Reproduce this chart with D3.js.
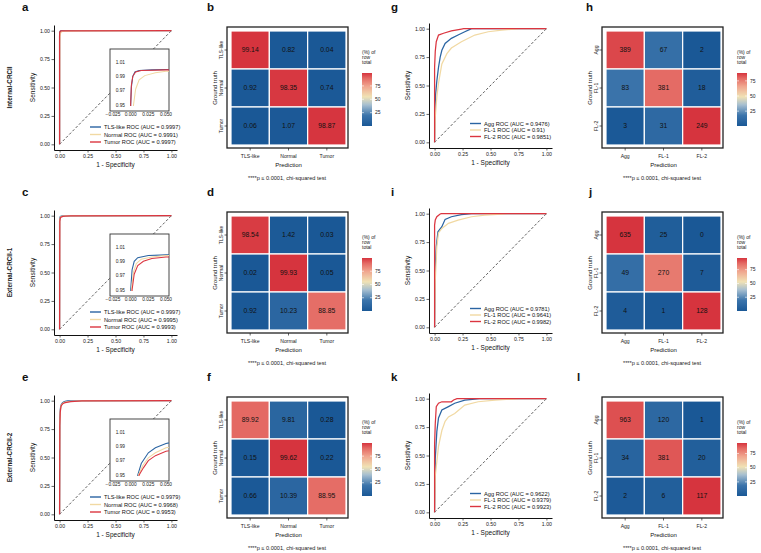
<!DOCTYPE html>
<html>
<head>
<meta charset="utf-8">
<script src="https://cdnjs.cloudflare.com/ajax/libs/d3/7.8.5/d3.min.js"></script>
<style>
body { margin: 0; background: #fff; }
text { font-family: "Liberation Sans", Arial, sans-serif; }
</style>
</head>
<body>
<div id="chart"></div>
<script>
// ---------- data ----------
var rowNames = ["Internal-CRCII", "External-CRCII-1", "External-CRCII-2"];
var tissueClasses = ["TLS-like", "Normal", "Tumor"];
var gradeClasses = ["Agg", "FL-1", "FL-2"];
var tissueKeys = ["TLS-like ROC", "Normal ROC", "Tumor ROC"];
var gradeKeys = ["Agg ROC", "FL-1 ROC", "FL-2 ROC"];
var rocTicks = [0, 0.25, 0.5, 0.75, 1];
var insetXTicks = [-0.025, 0, 0.025, 0.05];
var insetYTicks = [0.95, 0.97, 0.99, 1.01];
var barTicks = [25, 50, 75];
var letters = [["a", "b", "g", "h"], ["c", "d", "i", "j"], ["e", "f", "k", "l"]];

// tissue ROC curves, [1 - specificity, sensitivity]
var rocA_tls = [[0,0],[0,0.95],[0.001,0.975],[0.003,0.99],[0.006,0.996],[0.012,0.998],[0.03,0.999],[0.05,0.9995],[1,1]];
var rocA_normal = [[0,0],[0.002,0.9],[0.004,0.95],[0.007,0.972],[0.012,0.985],[0.02,0.991],[0.035,0.995],[0.05,0.997],[0.2,0.999],[1,1]];
var rocA_tumor = [[0,0],[0,0.95],[0.001,0.978],[0.003,0.99],[0.007,0.996],[0.015,0.998],[0.05,0.999],[1,1]];
var aucA = ["0.9997", "0.9991", "0.9997"];

var rocC_tls = [[0,0],[0,0.95],[0.002,0.978],[0.005,0.99],[0.01,0.995],[0.025,0.998],[0.05,0.999],[1,1]];
var rocC_normal = [[0,0],[0.001,0.95],[0.004,0.975],[0.008,0.987],[0.015,0.993],[0.03,0.996],[0.05,0.998],[1,1]];
var rocC_tumor = [[0,0],[0.002,0.95],[0.005,0.972],[0.01,0.984],[0.018,0.99],[0.03,0.994],[0.05,0.996],[0.1,0.998],[1,1]];
var aucC = ["0.9997", "0.9995", "0.9993"];

var rocE_tls = [[0,0],[0.002,0.85],[0.006,0.92],[0.01,0.95],[0.015,0.966],[0.025,0.981],[0.035,0.988],[0.05,0.994],[0.07,0.998],[1,1]];
var rocE_normal = [[0,0],[0.002,0.8],[0.006,0.9],[0.011,0.95],[0.017,0.963],[0.025,0.974],[0.035,0.981],[0.05,0.988],[0.1,0.995],[0.2,0.999],[1,1]];
var rocE_tumor = [[0,0],[0.002,0.78],[0.006,0.9],[0.012,0.95],[0.018,0.96],[0.025,0.97],[0.035,0.977],[0.05,0.983],[0.1,0.992],[0.2,0.998],[1,1]];
var aucE = ["0.9979", "0.9968", "0.9953"];

// grade ROC curves
var rocG_agg = [[0,0],[0.004,0.3],[0.009,0.42],[0.02,0.54],[0.035,0.66],[0.05,0.75],[0.065,0.81],[0.094,0.87],[0.15,0.915],[0.21,0.944],[0.27,0.973],[0.316,0.994],[0.33,1],[1,1]];
var rocG_fl1 = [[0,0],[0.006,0.22],[0.02,0.4],[0.035,0.52],[0.065,0.69],[0.11,0.78],[0.15,0.83],[0.24,0.885],[0.36,0.944],[0.48,0.973],[0.6,0.988],[0.71,0.997],[0.75,1],[1,1]];
var rocG_fl2 = [[0,0],[0,0.66],[0.006,0.8],[0.015,0.885],[0.035,0.944],[0.08,0.96],[0.15,0.98],[0.24,0.997],[0.26,1],[1,1]];
var aucG = ["0.9476", "0.91", "0.9851"];

var rocI_agg = [[0,0],[0.006,0.53],[0.015,0.71],[0.03,0.84],[0.065,0.885],[0.094,0.95],[0.15,0.973],[0.24,0.991],[0.33,1],[1,1]];
var rocI_fl1 = [[0,0],[0.006,0.41],[0.02,0.71],[0.035,0.83],[0.065,0.87],[0.124,0.915],[0.21,0.944],[0.33,0.973],[0.45,0.988],[0.6,0.997],[0.65,1],[1,1]];
var rocI_fl2 = [[0,0],[0,0.9],[0.006,0.944],[0.02,0.973],[0.05,0.997],[0.06,1],[1,1]];
var aucI = ["0.9781", "0.9641", "0.9982"];

var rocK_agg = [[0,0],[0.006,0.47],[0.02,0.71],[0.035,0.83],[0.065,0.9],[0.124,0.93],[0.18,0.96],[0.27,0.988],[0.36,0.997],[0.4,1],[1,1]];
var rocK_fl1 = [[0,0],[0.006,0.32],[0.035,0.58],[0.065,0.72],[0.094,0.8],[0.124,0.84],[0.18,0.87],[0.27,0.944],[0.39,0.973],[0.54,0.988],[0.71,0.997],[0.75,1],[1,1]];
var rocK_fl2 = [[0,0],[0,0.6],[0.006,0.78],[0.015,0.93],[0.035,0.96],[0.065,0.973],[0.15,0.973],[0.17,0.988],[0.2,1],[1,1]];
var aucK = ["0.9622", "0.9379", "0.9923"];

// confusion matrices (rows = ground truth, cols = prediction)
var pctInternal = [[99.14, 0.82, 0.04], [0.92, 98.35, 0.74], [0.06, 1.07, 98.87]];
var pctExternal1 = [[98.54, 1.42, 0.03], [0.02, 99.93, 0.05], [0.92, 10.23, 88.85]];
var pctExternal2 = [[89.92, 9.81, 0.28], [0.15, 99.62, 0.22], [0.66, 10.39, 88.95]];
var cntInternal = [[389, 67, 2], [83, 381, 18], [3, 31, 249]];
var cntExternal1 = [[635, 25, 0], [49, 270, 7], [4, 1, 128]];
var cntExternal2 = [[963, 120, 1], [34, 381, 20], [2, 6, 117]];

// ---------- style ----------
var rocColors = ["#2a64a2", "#f1d9a3", "#db3540"];
var heatColor = d3.scaleLinear()
  .domain([0, 0.2, 0.4, 0.55, 0.75, 0.9, 1])
  .range(["#1a5896", "#3b74ab", "#a7bfd0", "#f0e2b5", "#f0a58e", "#e46a64", "#d6343e"]);
var colX = [0, 375];
var rowY = [0, 185, 370];
var clipId = 0;

var svg = d3.select("#chart").append("svg")
  .attr("width", 761).attr("height", 553);

function styleAxis(ax, fs) {
  ax.selectAll("text").attr("font-size", fs).attr("fill", "#222");
  ax.selectAll("line").attr("stroke", "#222").attr("stroke-width", 0.7);
  ax.select(".domain").attr("stroke", "#111").attr("stroke-width", 1);
}

function rocPanel(ox, oy, curves, keys, aucs, withInset, rowName) {
  var g = svg.append("g").attr("transform", "translate(" + ox + "," + oy + ")");
  var x = d3.scaleLinear().domain([-0.05, 1.05]).range([54, 177]);
  var y = d3.scaleLinear().domain([-0.05, 1.05]).range([150, 25]);
  var line = d3.line().x(function(d) { return x(d[0]); }).y(function(d) { return y(d[1]); });

  g.append("line")
    .attr("x1", x(0)).attr("y1", y(0)).attr("x2", x(1)).attr("y2", y(1))
    .attr("stroke", "#333").attr("stroke-width", 0.8).attr("stroke-dasharray", "2.6,2");

  curves.forEach(function(c, i) {
    g.append("path").attr("d", line(c)).attr("fill", "none")
      .attr("stroke", rocColors[i]).attr("stroke-width", 1.25);
  });

  var xa = g.append("g").attr("transform", "translate(0,150)")
    .call(d3.axisBottom(x).tickValues(rocTicks).tickFormat(d3.format(".2f"))
      .tickSize(2.5).tickSizeOuter(0).tickPadding(1.5));
  var ya = g.append("g").attr("transform", "translate(54,0)")
    .call(d3.axisLeft(y).tickValues(rocTicks).tickFormat(d3.format(".2f"))
      .tickSize(2.5).tickSizeOuter(0).tickPadding(1.5));
  styleAxis(xa, 5.2);
  styleAxis(ya, 5.2);

  g.append("text").attr("x", 115.5).attr("y", 167).attr("text-anchor", "middle")
    .attr("font-size", 6.5).attr("fill", "#111").text("1 - Specificity");
  g.append("text").attr("transform", "translate(35,87.5) rotate(-90)")
    .attr("text-anchor", "middle").attr("font-size", 6.5).attr("fill", "#111").text("Sensitivity");

  if (rowName) {
    g.append("text").attr("transform", "translate(11.5,87.5) rotate(-90)")
      .attr("text-anchor", "middle").attr("font-size", 6.3).attr("font-weight", "bold")
      .attr("fill", "#222").text(rowName);
  }

  // legend
  var lx = withInset ? 90 : 95;
  var ly0 = withInset ? 127 : 125.5;
  var step = withInset ? 7.5 : 6.5;
  keys.forEach(function(k, i) {
    var yy = ly0 + i * step;
    g.append("line").attr("x1", lx).attr("x2", lx + 11).attr("y1", yy).attr("y2", yy)
      .attr("stroke", rocColors[i]).attr("stroke-width", 1.4);
    g.append("text").attr("x", lx + 14).attr("y", yy + 2).attr("font-size", 5.7)
      .attr("fill", "#111").text(k + " (AUC = " + aucs[i] + ")");
  });

  if (withInset) {
    var ix = d3.scaleLinear().domain([-0.025, 0.05]).range([113, 166]);
    var iy = d3.scaleLinear().domain([0.95, 1.01]).range([105, 62]);
    var iline = d3.line().x(function(d) { return ix(d[0]); }).y(function(d) { return iy(d[1]); });
    g.append("rect").attr("x", 110).attr("y", 49).attr("width", 59).attr("height", 62)
      .attr("fill", "#fff").attr("stroke", "#333").attr("stroke-width", 0.9);
    var id = "clip" + (clipId++);
    g.append("clipPath").attr("id", id).append("rect")
      .attr("x", 110).attr("y", 49).attr("width", 59).attr("height", 57);
    var cg = g.append("g").attr("clip-path", "url(#" + id + ")");
    curves.forEach(function(c, i) {
      cg.append("path").attr("d", iline(c)).attr("fill", "none")
        .attr("stroke", rocColors[i]).attr("stroke-width", 1.05);
    });
    insetXTicks.forEach(function(v) {
      g.append("text").attr("x", ix(v)).attr("y", 115.5).attr("text-anchor", "middle")
        .attr("font-size", 4.8).attr("fill", "#222").text(d3.format(".3f")(v));
    });
    insetYTicks.forEach(function(v) {
      g.append("text").attr("x", 125).attr("y", iy(v) + 1.7).attr("text-anchor", "end")
        .attr("font-size", 4.8).attr("fill", "#222").text(d3.format(".2f")(v));
    });
  }
}

function heatPanel(ox, oy, mat, classes, isCount) {
  var g = svg.append("g").attr("transform", "translate(" + ox + "," + oy + ")");
  var x = d3.scaleBand().domain(classes).range([46, 161]);
  var y = d3.scaleBand().domain(classes).range([31, 145]);

  var cells = [];
  mat.forEach(function(row, r) {
    var tot = d3.sum(row);
    row.forEach(function(v, c) {
      cells.push({ r: classes[r], c: classes[c], v: v, p: isCount ? v / tot * 100 : v });
    });
  });
  var pmin = d3.min(cells, function(d) { return d.p; });
  var pmax = d3.max(cells, function(d) { return d.p; });
  var t = d3.scaleLinear().domain([pmin, pmax]).range([0, 1]);

  g.append("rect").attr("x", 42).attr("y", 27).attr("width", 121).attr("height", 121)
    .attr("fill", "#fff").attr("stroke", "#222").attr("stroke-width", 1.3);

  g.selectAll(".cell").data(cells).enter().append("rect")
    .attr("x", function(d) { return x(d.c); })
    .attr("y", function(d) { return y(d.r); })
    .attr("width", x.bandwidth()).attr("height", y.bandwidth())
    .attr("fill", function(d) { return heatColor(t(d.p)); })
    .attr("stroke", "#fff").attr("stroke-width", 1.2);

  g.selectAll(".lab").data(cells).enter().append("text")
    .attr("x", function(d) { return x(d.c) + x.bandwidth() / 2; })
    .attr("y", function(d) { return y(d.r) + y.bandwidth() / 2 + 2.4; })
    .attr("text-anchor", "middle").attr("font-size", 6.8).attr("fill", "#111")
    .text(function(d) { return String(d.v); });

  classes.forEach(function(cl) {
    var cx = x(cl) + x.bandwidth() / 2;
    g.append("line").attr("x1", cx).attr("x2", cx).attr("y1", 148).attr("y2", 150.5)
      .attr("stroke", "#222").attr("stroke-width", 0.7);
    g.append("text").attr("x", cx).attr("y", 157.5).attr("text-anchor", "middle")
      .attr("font-size", 5.1).attr("fill", "#222").text(cl);
    var cy = y(cl) + y.bandwidth() / 2;
    g.append("line").attr("x1", 39.5).attr("x2", 42).attr("y1", cy).attr("y2", cy)
      .attr("stroke", "#222").attr("stroke-width", 0.7);
    g.append("text").attr("transform", "translate(38," + cy + ") rotate(-90)")
      .attr("text-anchor", "middle").attr("font-size", 5.1).attr("fill", "#222").text(cl);
  });

  g.append("text").attr("x", 103.5).attr("y", 167).attr("text-anchor", "middle")
    .attr("font-size", 6).attr("fill", "#111").text("Prediction");
  g.append("text").attr("transform", "translate(31.5,88) rotate(-90)")
    .attr("text-anchor", "middle").attr("font-size", 6).attr("fill", "#111").text("Ground truth");
  g.append("text").attr("x", 102).attr("y", 179.5).attr("text-anchor", "middle")
    .attr("font-size", 5.6).attr("fill", "#222").text("****p \u2264 0.0001, chi-squared test");

  // colour bar
  ["(%) of", "row", "total"].forEach(function(s, i) {
    g.append("text").attr("x", 177).attr("y", 54 + i * 5.2).attr("font-size", 5)
      .attr("fill", "#222").text(s);
  });
  var gid = "grad" + (clipId++);
  var grad = svg.append("defs").append("linearGradient").attr("id", gid)
    .attr("x1", 0).attr("y1", 1).attr("x2", 0).attr("y2", 0);
  d3.range(0, 1.0001, 0.05).forEach(function(s) {
    grad.append("stop").attr("offset", s).attr("stop-color", heatColor(s));
  });
  var by = d3.scaleLinear().domain([pmin, pmax]).range([126, 73]);
  g.append("rect").attr("x", 177).attr("y", 73).attr("width", 10).attr("height", 53)
    .attr("fill", "url(#" + gid + ")");
  barTicks.forEach(function(v) {
    g.append("line").attr("x1", 177).attr("x2", 179).attr("y1", by(v)).attr("y2", by(v))
      .attr("stroke", "#fff").attr("stroke-width", 0.6);
    g.append("line").attr("x1", 185).attr("x2", 187).attr("y1", by(v)).attr("y2", by(v))
      .attr("stroke", "#fff").attr("stroke-width", 0.6);
    g.append("text").attr("x", 190).attr("y", by(v) + 1.7).attr("font-size", 5)
      .attr("fill", "#222").text(v);
  });
}

function letter(x, y, s) {
  svg.append("text").attr("x", x).attr("y", y).attr("font-size", 11.5)
    .attr("font-weight", "bold").attr("fill", "#111").text(s);
}

// ---------- panels ----------
var tissueRocs = [[rocA_tls, rocA_normal, rocA_tumor], [rocC_tls, rocC_normal, rocC_tumor], [rocE_tls, rocE_normal, rocE_tumor]];
var tissueAucs = [aucA, aucC, aucE];
var gradeRocs = [[rocG_agg, rocG_fl1, rocG_fl2], [rocI_agg, rocI_fl1, rocI_fl2], [rocK_agg, rocK_fl1, rocK_fl2]];
var gradeAucs = [aucG, aucI, aucK];
var pctMats = [pctInternal, pctExternal1, pctExternal2];
var cntMats = [cntInternal, cntExternal1, cntExternal2];
var letterX = [[22, 207, 391, 586], [22, 207, 391, 589], [22, 207, 391, 577]];
var letterY = [10.5, 195.5, 381];

rowY.forEach(function(oy, r) {
  rocPanel(colX[0], oy, tissueRocs[r], tissueKeys, tissueAucs[r], true, rowNames[r]);
  heatPanel(colX[0] + 185, oy, pctMats[r], tissueClasses, false);
  rocPanel(colX[1], oy - 2, gradeRocs[r], gradeKeys, gradeAucs[r], false, null);
  heatPanel(colX[1] + 185, oy, cntMats[r], gradeClasses, true);
  letters[r].forEach(function(s, j) { letter(letterX[r][j], letterY[r], s); });
});
</script>
</body>
</html>
